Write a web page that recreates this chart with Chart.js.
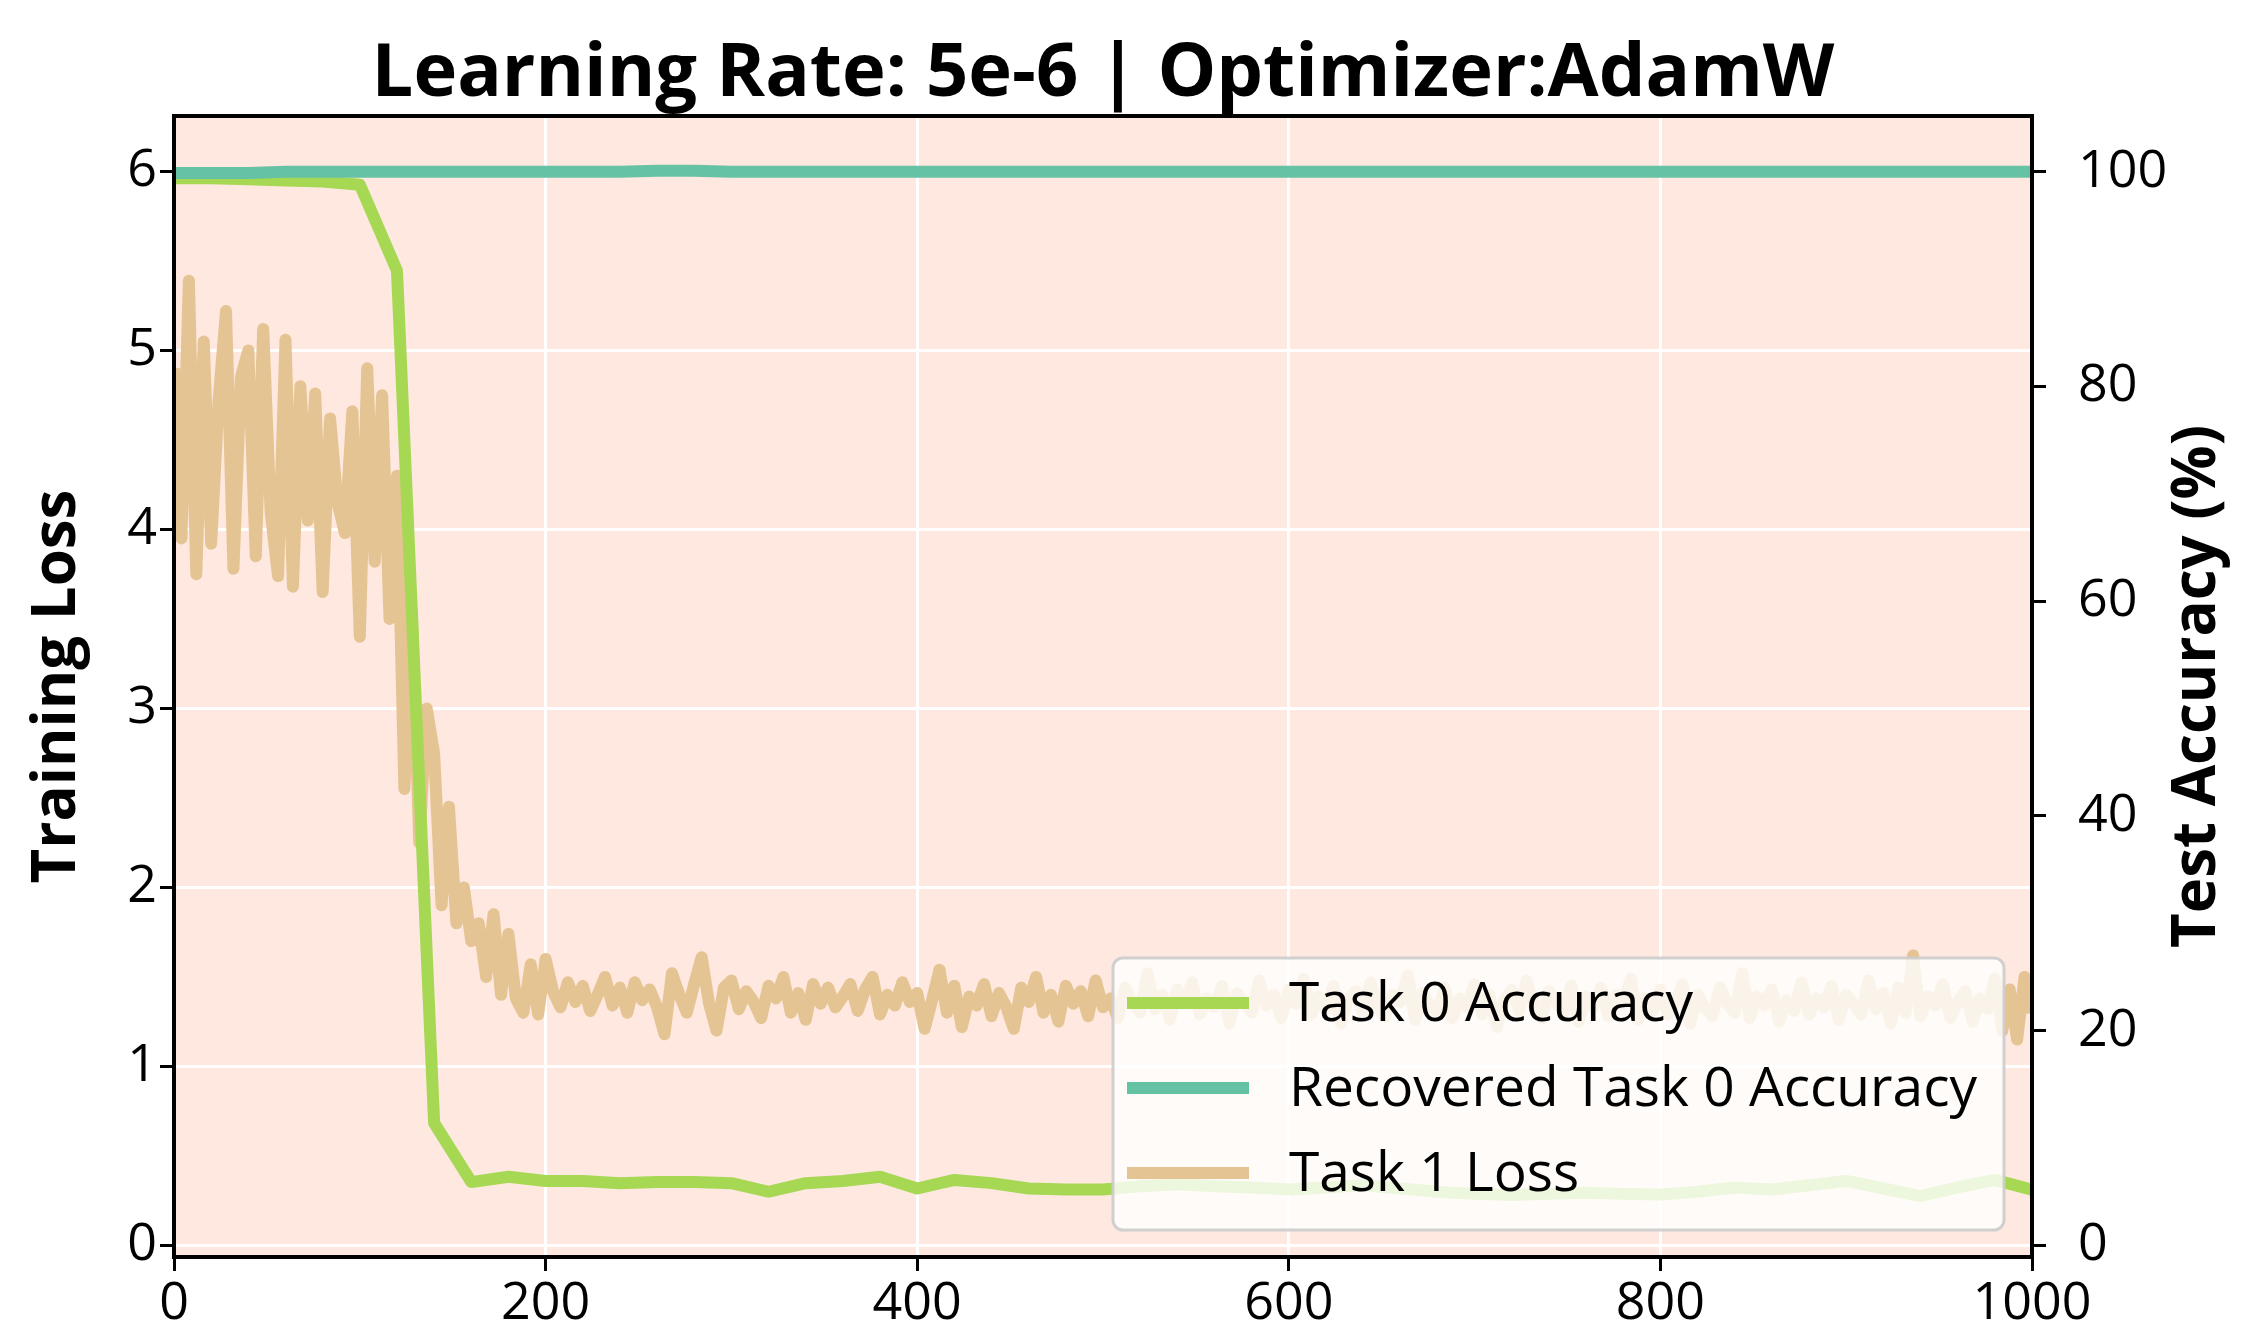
<!DOCTYPE html>
<html>
<head>
<meta charset="utf-8">
<script src="https://cdn.jsdelivr.net/npm/chart.js@4.4.1/dist/chart.umd.min.js"></script>
<style>
  html, body { margin: 0; padding: 0; background: #fff; }
  #wrap { width: 2260px; height: 1321px; position: relative; }
</style>
</head>
<body>
<div id="wrap"><canvas id="chart"></canvas></div>
<script>
const titleText = 'Learning Rate: 5e-6 | Optimizer:AdamW';
const xTicks = [0, 200, 400, 600, 800, 1000];
const lossTicks = [0, 1, 2, 3, 4, 5, 6];
const accTicks = [0, 20, 40, 60, 80, 100];
const legendLabels = ['Task 0 Accuracy', 'Recovered Task 0 Accuracy', 'Task 1 Loss'];
const rightTitle = 'Test Accuracy (%)';

// accuracy is logged every 20 steps, loss sampled every 4 steps
const accEvery = 20;
const lossEvery = 4;

const task0Acc = [
  99.4, 99.4, 99.3, 99.2, 99.1, 98.8, 90.8, 11.4, 5.9, 6.4,
  6.0, 6.0, 5.8, 5.9, 5.9, 5.8, 5.0, 5.8, 6.0, 6.4,
  5.3, 6.1, 5.8, 5.3, 5.2, 5.2, 5.5, 5.7, 5.5, 5.4,
  5.2, 5.4, 5.6, 5.3, 5.0, 4.8, 4.7, 4.8, 4.9, 4.8,
  4.75, 5.0, 5.4, 5.2, 5.6, 6.0, 5.3, 4.6, 5.4, 6.1,
  5.2
];
const recoveredAcc = [
  99.9, 99.9, 99.9, 100, 100, 100, 100, 100, 100, 100,
  100, 100, 100, 100.1, 100.1, 100, 100, 100, 100, 100,
  100, 100, 100, 100, 100, 100, 100, 100, 100, 100,
  100, 100, 100, 100, 100, 100, 100, 100, 100, 100,
  100, 100, 100, 100, 100, 100, 100, 100, 100, 100,
  100
];
const task1Loss = [
  4.9, 3.95, 5.39, 3.75, 5.05, 3.92, 4.72, 5.22, 3.78, 4.85,
  5.0, 3.85, 5.12, 4.1, 3.74, 5.06, 3.68, 4.8, 4.05, 4.76,
  3.65, 4.62, 4.15, 3.98, 4.66, 3.4, 4.9, 3.82, 4.75, 3.5,
  4.3, 2.55, 3.55, 2.25, 3.0, 2.75, 1.9, 2.45, 1.8, 2.0,
  1.7, 1.8, 1.5, 1.85, 1.4, 1.74, 1.38, 1.3, 1.57, 1.29,
  1.6,
  1.42, 1.33, 1.47, 1.36, 1.45, 1.31, 1.40, 1.50, 1.34, 1.44,
  1.30, 1.47, 1.37, 1.43, 1.33, 1.18, 1.52, 1.40, 1.30, 1.46,
  1.61, 1.35, 1.20, 1.44, 1.48, 1.32, 1.42, 1.36, 1.27, 1.45,
  1.38, 1.50, 1.30, 1.41, 1.26, 1.46, 1.35, 1.44, 1.33, 1.39,
  1.46, 1.31, 1.43, 1.50, 1.29, 1.40, 1.34, 1.47, 1.36, 1.41,
  1.21, 1.37, 1.54, 1.30, 1.45, 1.22, 1.39, 1.34, 1.46, 1.28,
  1.41, 1.33, 1.21, 1.44, 1.36, 1.50, 1.30, 1.40, 1.25, 1.45,
  1.35, 1.42, 1.28, 1.48, 1.33, 1.38, 1.27, 1.44, 1.36, 1.30,
  1.52, 1.32, 1.40, 1.26, 1.43, 1.35, 1.47, 1.29, 1.38, 1.33,
  1.45, 1.24, 1.41, 1.36, 1.30, 1.48, 1.34, 1.40, 1.27, 1.43,
  1.35, 1.49, 1.29, 1.39, 1.32, 1.45, 1.24, 1.38, 1.42, 1.30,
  1.47, 1.33, 1.28, 1.40, 1.36, 1.51, 1.26, 1.41, 1.34, 1.30,
  1.44, 1.27, 1.38, 1.33, 1.46, 1.29, 1.40, 1.22, 1.37, 1.43,
  1.31, 1.48, 1.34, 1.27, 1.42, 1.36, 1.30, 1.45, 1.25, 1.39,
  1.33, 1.44, 1.28, 1.40, 1.35, 1.49, 1.26, 1.38, 1.31, 1.43,
  1.29, 1.36, 1.46, 1.24, 1.40, 1.33, 1.28, 1.44, 1.35, 1.30,
  1.52, 1.27, 1.39, 1.34, 1.43, 1.25, 1.37, 1.31, 1.47, 1.29,
  1.38, 1.33, 1.45, 1.26, 1.40, 1.35, 1.29, 1.48, 1.32, 1.41,
  1.24, 1.44, 1.30, 1.62, 1.28, 1.39, 1.34, 1.46, 1.27, 1.36,
  1.42, 1.25, 1.38, 1.32, 1.49, 1.20, 1.43, 1.15, 1.50, 1.30
];

const FONT = '"Open Sans", "DejaVu Sans", sans-serif';
const GREEN = '#a6d854', TEAL = '#66c2a5', TAN = '#e5c494';
const PLOT_BG = '#fee8e0';
const LW = 12;

function toPoints(values, every) {
  return values.map((v, i) => ({ x: i * every, y: v }));
}

// plot background, frame, title, right axis title, in-plot legend
const decor = {
  id: 'decor',
  beforeDraw(chart) {
    const { ctx, chartArea: a } = chart;
    ctx.save();
    ctx.fillStyle = '#fff';
    ctx.fillRect(0, 0, chart.width, chart.height);
    ctx.fillStyle = PLOT_BG;
    ctx.fillRect(a.left, a.top, a.right - a.left, a.bottom - a.top);
    ctx.restore();
  },
  afterDraw(chart) {
    const { ctx, chartArea: a } = chart;
    ctx.save();
    // legend box
    const lx = 1113, ly = 958, lw = 891, lh = 272, r = 10;
    ctx.beginPath();
    ctx.roundRect(lx, ly, lw, lh, r);
    ctx.fillStyle = 'rgba(255,255,255,0.8)';
    ctx.fill();
    ctx.lineWidth = 3;
    ctx.strokeStyle = 'rgba(204,204,204,0.9)';
    ctx.stroke();
    ctx.font = '55px ' + FONT;
    ctx.textBaseline = 'middle';
    ctx.fillStyle = '#000';
    legendLabels.forEach((lab, i) => {
      const ds = chart.data.datasets.find(d => d.label === lab);
      const y = 1003 + i * 85;
      ctx.beginPath();
      ctx.moveTo(1127, y);
      ctx.lineTo(1249, y);
      ctx.lineWidth = LW;
      ctx.lineCap = 'butt';
      ctx.strokeStyle = ds.borderColor;
      ctx.stroke();
      ctx.fillText(lab, 1289, y + 2);
    });
    // frame
    ctx.lineWidth = 4;
    ctx.strokeStyle = '#000';
    ctx.strokeRect(a.left, a.top, a.right - a.left, a.bottom - a.top);
    // title
    ctx.font = 'bold 74px ' + FONT;
    ctx.textAlign = 'center';
    ctx.textBaseline = 'alphabetic';
    ctx.fillText(titleText, (a.left + a.right) / 2, 96);
    // right axis title, reading bottom-to-top
    ctx.translate(2198, (a.top + a.bottom) / 2);
    ctx.rotate(-Math.PI / 2);
    ctx.font = 'bold 60px ' + FONT;
    ctx.textBaseline = 'middle';
    ctx.fillText(rightTitle, 0, 0);
    ctx.restore();
  }
};

const tickFont = { family: FONT, size: 52 };
const axisTitleFont = { family: FONT, size: 60, weight: 'bold' };
const plain = v => String(v);

new Chart(document.getElementById('chart'), {
  type: 'line',
  data: {
    datasets: [
      {
        label: 'Recovered Task 0 Accuracy',
        data: toPoints(recoveredAcc, accEvery),
        yAxisID: 'y2',
        borderColor: TEAL,
        borderWidth: LW
      },
      {
        label: 'Task 0 Accuracy',
        data: toPoints(task0Acc, accEvery),
        yAxisID: 'y2',
        borderColor: GREEN,
        borderWidth: LW
      },
      {
        label: 'Task 1 Loss',
        data: toPoints(task1Loss, lossEvery),
        yAxisID: 'y',
        borderColor: TAN,
        borderWidth: LW
      }
    ]
  },
  options: {
    responsive: true,
    maintainAspectRatio: false,
    devicePixelRatio: 1,
    animation: false,
    layout: { padding: { top: 116, left: 0, right: 0, bottom: 0 } },
    elements: {
      line: { tension: 0, borderJoinStyle: 'round', borderCapStyle: 'butt', fill: false },
      point: { radius: 0 }
    },
    datasets: { line: { clip: 0 } },
    plugins: {
      legend: { display: false },
      title: { display: false },
      tooltip: { enabled: false }
    },
    scales: {
      x: {
        type: 'linear',
        position: 'bottom',
        min: 0,
        max: 1000,
        afterFit(s) { s.height = 64; },
        afterBuildTicks(s) { s.ticks = xTicks.map(v => ({ value: v })); },
        ticks: { font: tickFont, color: '#000', padding: 2, maxRotation: 0, callback: plain },
        grid: { color: '#fff', lineWidth: 3, tickColor: '#000', tickLength: 14, tickWidth: 3 },
        border: { display: false }
      },
      y: {
        type: 'linear',
        position: 'left',
        min: -0.065,
        max: 6.31,
        afterFit(s) { s.width = 174; },
        afterBuildTicks(s) { s.ticks = lossTicks.map(v => ({ value: v })); },
        ticks: { font: tickFont, color: '#000', padding: 3, callback: plain },
        grid: { color: '#fff', lineWidth: 3, tickColor: '#000', tickLength: 14, tickWidth: 3 },
        border: { display: false },
        title: { display: true, text: 'Training Loss', font: axisTitleFont, color: '#000', padding: { top: 22, bottom: 0 } }
      },
      y2: {
        type: 'linear',
        position: 'right',
        min: -1.08,
        max: 105.2,
        afterFit(s) { s.width = 228; },
        afterBuildTicks(s) { s.ticks = accTicks.map(v => ({ value: v })); },
        ticks: { font: tickFont, color: '#000', padding: 32, callback: plain },
        grid: { drawOnChartArea: false, tickColor: '#000', tickLength: 14, tickWidth: 3 },
        border: { display: false }
      }
    }
  },
  plugins: [decor]
});
</script>
</body>
</html>
